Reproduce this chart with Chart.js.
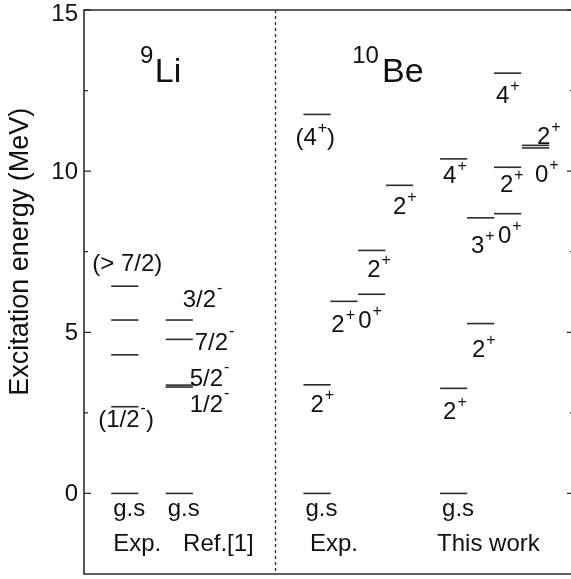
<!DOCTYPE html>
<html>
<head>
<meta charset="utf-8">
<script src="https://cdn.jsdelivr.net/npm/chart.js@4/dist/chart.umd.min.js"></script>
<style>
html, body { margin: 0; padding: 0; overflow: hidden; background: #fff; }
#wrap { width: 580px; height: 579px; }
</style>
</head>
<body>
<div id="wrap"><canvas id="levelChart"></canvas></div>
<script>
/*global Chart, document*/

// level energies (MeV) and spin-parity labels, "^" marks a superscript
var li9ExpE = [0, 2.69, 4.30, 5.38, 6.43];
var li9ExpJ = ['g.s', '(1/2^-)', '', '', '(> 7/2)'];
var li9RefE = [0, 3.30, 3.36, 4.78, 5.38];
var li9RefJ = ['g.s', '1/2^-', '5/2^-', '7/2^-', '3/2^-'];
var be10ExpE = [0, 3.37, 5.96, 6.18, 7.54, 9.56, 11.76];
var be10ExpJ = ['g.s', '2^+', '2^+', '0^+', '2^+', '2^+', '(4^+)'];
var be10CalE = [0, 3.26, 5.27, 8.55, 8.68, 10.12, 10.38, 10.72, 10.80, 13.04];
var be10CalJ = ['g.s', '2^+', '2^+', '3^+', '0^+', '2^+', '4^+', '0^+', '2^+', '4^+'];

var columnNames = ['Exp.', 'Ref.[1]', 'Exp.', 'This work'];
var nuclideMass = ['9', '10'];
var nuclideName = ['Li', 'Be'];
var yTicks = [0, 5, 10, 15];
var yMinorTicks = [2.5, 7.5, 12.5];

// ---- layout: slot = left end of a level (x units), offsets in px ----
var li9ExpSlot = [1, 1, 1, 1, 1];
var li9ExpOff = [[2, 23], [-13, 20], null, null, [-19, -15]];
var li9RefSlot = [3, 3, 3, 3, 3];
var li9RefOff = [[2, 23], [24, 25], [24, 1], [29, 11], [17, -13]];
var be10ExpSlot = [8.06, 8.06, 9.05, 10.07, 10.07, 11.09, 8.06];
var be10ExpOff = [[2, 23], [7, 27], [1, 31], [0, 34], [9, 27], [7, 29], [-8, 31]];
var be10CalSlot = [13.08, 13.08, 14.07, 14.07, 15.06, 15.06, 13.08, 16.09, 16.09, 15.06];
var be10CalOff = [[2, 23], [3, 31], [5, 33], [4, 35], [4, 29], [6, 25], [3, 24], [13, 34], [15, -1], [2, 30]];
var columnX = [1.07, 3.64, 8.3, 12.97];
var nuclideX = [[2.06, 2.6], [9.85, 10.95]];
var dividerX = 7;

var groups = [
    { e: li9ExpE, j: li9ExpJ, slot: li9ExpSlot, off: li9ExpOff },
    { e: li9RefE, j: li9RefJ, slot: li9RefSlot, off: li9RefOff },
    { e: be10ExpE, j: be10ExpJ, slot: be10ExpSlot, off: be10ExpOff },
    { e: be10CalE, j: be10CalJ, slot: be10CalSlot, off: be10CalOff }
];

var lineColor = '#2b2b2b';
var textColor = '#111';
var fontName = '"Liberation Sans", Arial, sans-serif';

var datasets = [];
groups.forEach(function (g) {
    for (var i = 0; i < g.e.length; i++) {
        datasets.push({
            data: [{ x: g.slot[i], y: g.e[i] }, { x: g.slot[i] + 1, y: g.e[i] }],
            borderColor: lineColor,
            borderWidth: 1.6,
            pointRadius: 0,
            fill: false,
            tension: 0
        });
    }
});

// draw "2^+" style text, left edge at x, baseline at y
function drawSpin(ctx, text, x, y) {
    var parts = text.split('^');
    ctx.textAlign = 'left';
    ctx.textBaseline = 'alphabetic';
    ctx.font = '24px ' + fontName;
    ctx.fillText(parts[0], x, y);
    x += ctx.measureText(parts[0]).width;
    if (parts.length > 1) {
        var sup = parts[1].charAt(0);
        var rest = parts[1].substring(1);
        ctx.font = '16px ' + fontName;
        ctx.fillText(sup, x + 1, y - (sup === '-' ? 14 : 12));
        x += ctx.measureText(sup).width + 1;
        ctx.font = '24px ' + fontName;
        ctx.fillText(rest, x, y);
    }
}

var decorations = {
    id: 'decorations',
    afterDatasetsDraw: function (chart) {
        var ctx = chart.ctx;
        var xs = chart.scales.x;
        var ys = chart.scales.y;
        var area = chart.chartArea;
        ctx.save();

        // frame (right side falls outside the window)
        ctx.strokeStyle = lineColor;
        ctx.lineWidth = 1.6;
        ctx.beginPath();
        ctx.moveTo(area.right + 10, area.top);
        ctx.lineTo(area.left, area.top);
        ctx.lineTo(area.left, area.bottom);
        ctx.lineTo(area.right + 10, area.bottom);
        ctx.stroke();

        // inward ticks
        ctx.lineWidth = 1.3;
        yTicks.forEach(function (v) {
            var py = ys.getPixelForValue(v);
            ctx.beginPath();
            ctx.moveTo(area.left, py);
            ctx.lineTo(area.left + 7, py);
            ctx.moveTo(area.right, py);
            ctx.lineTo(area.right - 7, py);
            ctx.stroke();
        });
        yMinorTicks.forEach(function (v) {
            var py = ys.getPixelForValue(v);
            ctx.beginPath();
            ctx.moveTo(area.left, py);
            ctx.lineTo(area.left + 4, py);
            ctx.moveTo(area.right, py);
            ctx.lineTo(area.right - 4, py);
            ctx.stroke();
        });

        // tick labels
        ctx.fillStyle = textColor;
        ctx.font = '24px ' + fontName;
        ctx.textAlign = 'right';
        ctx.textBaseline = 'middle';
        yTicks.forEach(function (v) {
            var py = ys.getPixelForValue(v) + 1;
            ctx.fillText(String(v), area.left - 6, Math.max(py, 14));
        });

        // axis title
        ctx.save();
        ctx.translate(21, ys.getPixelForValue(7.5));
        ctx.rotate(-Math.PI / 2);
        ctx.textAlign = 'center';
        ctx.textBaseline = 'middle';
        ctx.font = '27px ' + fontName;
        ctx.fillText('Excitation energy (MeV)', 0, 0);
        ctx.restore();

        // dotted divider between the two nuclei
        var dx = Math.round(xs.getPixelForValue(dividerX)) + 0.5;
        ctx.setLineDash([3, 3]);
        ctx.lineWidth = 1.3;
        ctx.beginPath();
        ctx.moveTo(dx, area.top);
        ctx.lineTo(dx, area.bottom);
        ctx.stroke();
        ctx.setLineDash([]);

        // spin labels
        groups.forEach(function (g) {
            for (var i = 0; i < g.e.length; i++) {
                if (!g.j[i] || !g.off[i]) {
                    continue;
                }
                var px = xs.getPixelForValue(g.slot[i]) + g.off[i][0];
                var py = ys.getPixelForValue(g.e[i]) + g.off[i][1];
                drawSpin(ctx, g.j[i], px, py);
            }
        });

        // column names
        ctx.font = '24px ' + fontName;
        ctx.textAlign = 'left';
        ctx.textBaseline = 'alphabetic';
        columnNames.forEach(function (n, i) {
            ctx.fillText(n, xs.getPixelForValue(columnX[i]), ys.getPixelForValue(-1.8));
        });

        // nuclide names
        nuclideName.forEach(function (n, i) {
            ctx.font = '24px ' + fontName;
            ctx.fillText(nuclideMass[i], xs.getPixelForValue(nuclideX[i][0]), ys.getPixelForValue(13.35));
            ctx.font = '34px ' + fontName;
            ctx.fillText(n, xs.getPixelForValue(nuclideX[i][1]), ys.getPixelForValue(12.78));
        });

        ctx.restore();
    }
};

var levelChart = new Chart(document.getElementById('levelChart'), {
    type: 'line',
    data: { datasets: datasets },
    options: {
        responsive: true,
        maintainAspectRatio: false,
        animation: false,
        events: [],
        layout: { padding: { left: 84, top: 10, right: 6, bottom: 5 } },
        plugins: { legend: { display: false }, tooltip: { enabled: false } },
        scales: {
            x: { type: 'linear', min: 0, max: 18, display: false },
            y: { type: 'linear', min: -2.5, max: 15, display: false }
        }
    },
    plugins: [decorations]
});
</script>
</body>
</html>
